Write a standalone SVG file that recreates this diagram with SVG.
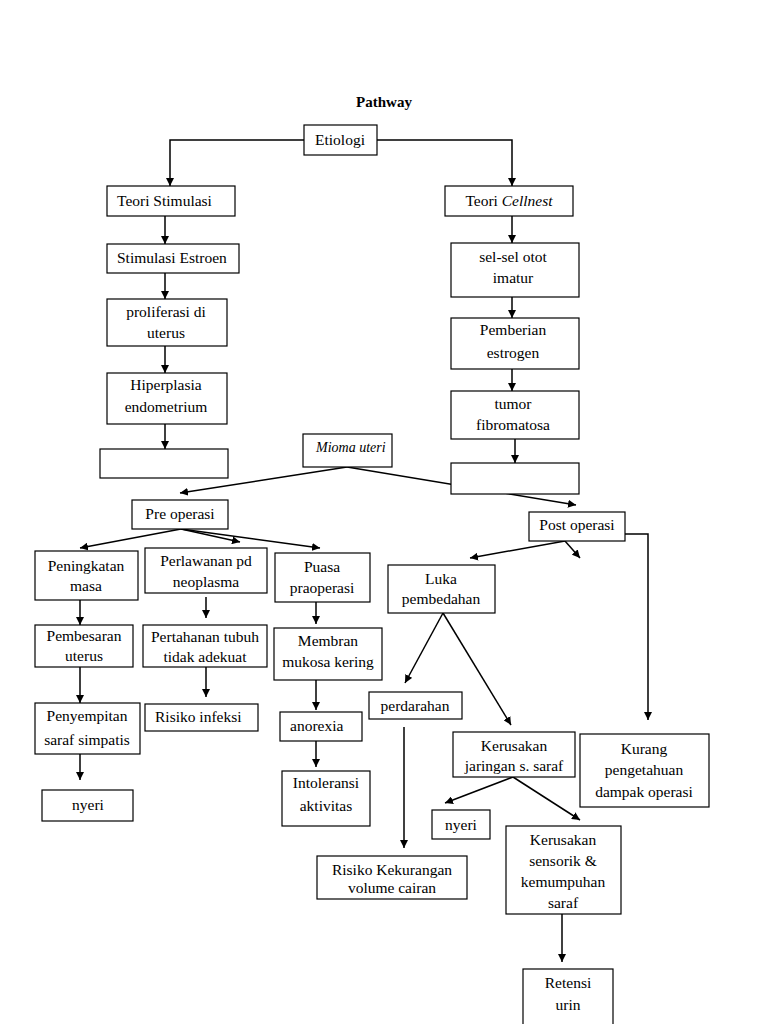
<svg xmlns="http://www.w3.org/2000/svg" width="768" height="1024" viewBox="0 0 768 1024">
<defs>
<marker id="ah" viewBox="0 0 10 10" refX="10" refY="5" markerWidth="8" markerHeight="8" markerUnits="userSpaceOnUse" orient="auto">
<path d="M0,0 L10,5 L0,10 z" fill="#000"/>
</marker>
<style>
.b{fill:#fff;stroke:#000;stroke-width:1.2}
.t{font-family:"Liberation Serif","Times New Roman",serif;font-size:15.5px;fill:#000}
.c{text-anchor:middle}
.l{fill:none;stroke:#000;stroke-width:1.5}
.a{fill:none;stroke:#000;stroke-width:1.5;marker-end:url(#ah)}
</style>
</defs>
<rect width="768" height="1024" fill="#fff"/>
<text x="384" y="107" class="t c" font-weight="bold" style="font-size:15px">Pathway</text>

<g id="connectors">
<path class="a" d="M304,140 H170 V186"/>
<path class="a" d="M377,140 H512 V186"/>
<path class="a" d="M165,216 V244"/>
<path class="a" d="M512,216 V243"/>
<path class="a" d="M165,273 V299"/>
<path class="a" d="M512,297 V318"/>
<path class="a" d="M165,346 V373"/>
<path class="a" d="M512,369 V391"/>
<path class="a" d="M165,424 V449"/>
<path class="a" d="M515,439 V463"/>
<path class="a" d="M347,467 L180,493"/>
<path class="a" d="M347,467 L576,505"/>
<path class="a" d="M181,529 L80,548"/>
<path class="a" d="M181,529 L240,542"/>
<path class="a" d="M181,529 L320,548"/>
<path class="a" d="M80,600 V625"/>
<path class="a" d="M80,667 V703"/>
<path class="a" d="M80,754 V780"/>
<path class="a" d="M206,597 V618"/>
<path class="a" d="M206,667 V697"/>
<path class="a" d="M316,602 V624"/>
<path class="a" d="M316,680 V710"/>
<path class="a" d="M316,741 V767"/>
<path class="a" d="M565,541 L470,558"/>
<path class="a" d="M565,541 L580,558"/>
<path class="a" d="M625,534 H648 V720"/>
<path class="a" d="M443,613 L405,683"/>
<path class="a" d="M443,613 L511,725"/>
<path class="a" d="M404,727 V848"/>
<path class="a" d="M513,777 L445,803"/>
<path class="a" d="M513,777 L580,820"/>
<path class="a" d="M562,914 V962"/>
</g>

<g id="etiologi"><rect class="b" x="304" y="125" width="73" height="30"/><text class="t c" x="340" y="145">Etiologi</text></g>
<g id="teori-stimulasi"><rect class="b" x="107" y="186" width="128" height="30"/><text class="t" x="117" y="206">Teori Stimulasi</text></g>
<g id="teori-cellnest"><rect class="b" x="445" y="186" width="128" height="30"/><text class="t c" x="509" y="206">Teori <tspan font-style="italic">Cellnest</tspan></text></g>
<g id="stimulasi-estroen"><rect class="b" x="107" y="244" width="132" height="29"/><text class="t" x="117" y="263">Stimulasi Estroen</text></g>
<g id="sel-sel"><rect class="b" x="451" y="243" width="128" height="54"/><text class="t c" x="513" y="262">sel-sel otot</text><text class="t c" x="513" y="283">imatur</text></g>
<g id="proliferasi"><rect class="b" x="107" y="299" width="120" height="47"/><text class="t c" x="166" y="317">proliferasi di</text><text class="t c" x="166" y="338">uterus</text></g>
<g id="pemberian"><rect class="b" x="451" y="318" width="128" height="51"/><text class="t c" x="513" y="335">Pemberian</text><text class="t c" x="513" y="358">estrogen</text></g>
<g id="hiperplasia"><rect class="b" x="107" y="373" width="120" height="51"/><text class="t c" x="166" y="390">Hiperplasia</text><text class="t c" x="166" y="412">endometrium</text></g>
<g id="tumor"><rect class="b" x="451" y="391" width="128" height="48"/><text class="t c" x="513" y="409">tumor</text><text class="t c" x="513" y="430">fibromatosa</text></g>
<g id="empty-left"><rect class="b" x="100" y="449" width="128" height="29"/></g>
<g id="mioma"><rect class="b" x="303" y="434" width="89" height="33"/><text class="t" x="316" y="452" font-style="italic" style="font-size:14px">Mioma uteri</text></g>
<g id="empty-right"><rect class="b" x="451" y="463" width="128" height="31"/></g>
<g id="pre-operasi"><rect class="b" x="132" y="500" width="96" height="29"/><text class="t c" x="180" y="519">Pre operasi</text></g>
<g id="post-operasi"><rect class="b" x="529" y="512" width="96" height="29"/><text class="t c" x="577" y="530">Post operasi</text></g>
<g id="peningkatan"><rect class="b" x="35" y="551" width="103" height="49"/><text class="t c" x="86" y="571">Peningkatan</text><text class="t c" x="86" y="591">masa</text></g>
<g id="perlawanan"><rect class="b" x="145" y="548" width="122" height="45"/><text class="t c" x="206" y="566">Perlawanan pd</text><text class="t c" x="206" y="587">neoplasma</text></g>
<g id="puasa"><rect class="b" x="275" y="553" width="95" height="49"/><text class="t c" x="322" y="572">Puasa</text><text class="t c" x="322" y="593">praoperasi</text></g>
<g id="pembesaran"><rect class="b" x="35" y="625" width="98" height="42"/><text class="t c" x="84" y="641">Pembesaran</text><text class="t c" x="84" y="661">uterus</text></g>
<g id="pertahanan"><rect class="b" x="143" y="625" width="124" height="42"/><text class="t c" x="205" y="642">Pertahanan tubuh</text><text class="t c" x="205" y="662">tidak adekuat</text></g>
<g id="membran"><rect class="b" x="274" y="628" width="108" height="52"/><text class="t c" x="328" y="646">Membran</text><text class="t c" x="328" y="667">mukosa kering</text></g>
<g id="penyempitan"><rect class="b" x="35" y="703" width="105" height="51"/><text class="t c" x="87" y="721">Penyempitan</text><text class="t c" x="87" y="745">saraf simpatis</text></g>
<g id="risiko-infeksi"><rect class="b" x="145" y="704" width="113" height="27"/><text class="t" x="155" y="722">Risiko infeksi</text></g>
<g id="anorexia"><rect class="b" x="280" y="712" width="82" height="29"/><text class="t" x="290" y="731">anorexia</text></g>
<g id="nyeri-left"><rect class="b" x="42" y="790" width="91" height="31"/><text class="t c" x="88" y="810">nyeri</text></g>
<g id="intoleransi"><rect class="b" x="282" y="771" width="88" height="55"/><text class="t c" x="326" y="788">Intoleransi</text><text class="t c" x="326" y="811">aktivitas</text></g>
<g id="luka"><rect class="b" x="388" y="565" width="107" height="48"/><text class="t c" x="441" y="584">Luka</text><text class="t c" x="441" y="604">pembedahan</text></g>
<g id="perdarahan"><rect class="b" x="369" y="692" width="93" height="27"/><text class="t c" x="415" y="711">perdarahan</text></g>
<g id="kerusakan-jaringan"><rect class="b" x="453" y="732" width="122" height="45"/><text class="t c" x="514" y="751">Kerusakan</text><text class="t c" x="514" y="771">jaringan s. saraf</text></g>
<g id="kurang"><rect class="b" x="580" y="734" width="129" height="73"/><text class="t c" x="644" y="754">Kurang</text><text class="t c" x="644" y="775">pengetahuan</text><text class="t c" x="644" y="797">dampak operasi</text></g>
<g id="nyeri-right"><rect class="b" x="432" y="810" width="58" height="29"/><text class="t c" x="461" y="830">nyeri</text></g>
<g id="kerusakan-sensorik"><rect class="b" x="506" y="826" width="115" height="88"/><text class="t c" x="563" y="845">Kerusakan</text><text class="t c" x="563" y="866">sensorik &amp;</text><text class="t c" x="563" y="887">kemumpuhan</text><text class="t c" x="563" y="908">saraf</text></g>
<g id="risiko-kekurangan"><rect class="b" x="317" y="856" width="150" height="43"/><text class="t c" x="392" y="875">Risiko Kekurangan</text><text class="t c" x="392" y="893">volume cairan</text></g>
<g id="retensi"><rect class="b" x="523" y="969" width="90" height="62"/><text class="t c" x="568" y="988">Retensi</text><text class="t c" x="568" y="1010">urin</text></g>
</svg>
